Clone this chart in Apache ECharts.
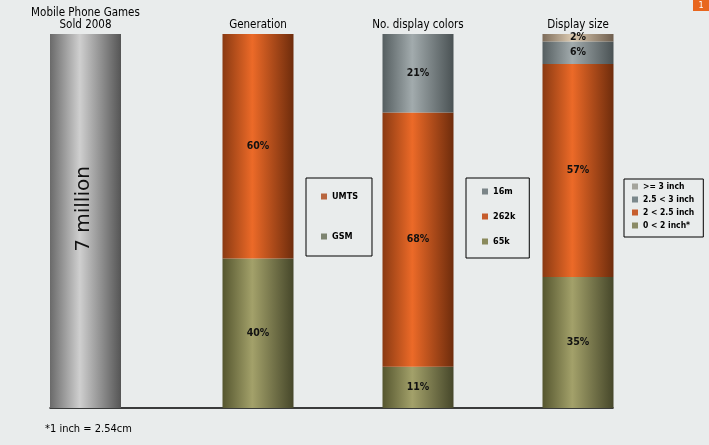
<!DOCTYPE html>
<html>
<head>
<meta charset="utf-8">
<script src="https://cdn.jsdelivr.net/npm/echarts@6/dist/echarts.min.js"></script>
<style>
  html, body { margin: 0; padding: 0; background: #e9ecec; }
  #chart { width: 709px; height: 445px; }
</style>
</head>
<body>
<div id="chart"></div>
<script>
// data, top segment first
var categories = ['Mobile Phone Games\nSold 2008', 'Generation', 'No. display colors', 'Display size']
var soldTotal = [100]
var soldLabel = '7 million'
var generationNames = ['UMTS', 'GSM']
var generationValues = [60, 40]
var colorNames = ['16m', '262k', '65k']
var colorValues = [21, 68, 11]
var sizeNames = ['>= 3 inch', '2.5 < 3 inch', '2 < 2.5 inch', '0 < 2 inch*']
var sizeValues = [2, 6, 57, 35]
var footnote = '*1 inch = 2.54cm'

var FONT = '"DejaVu Sans Condensed", "DejaVu Sans", sans-serif'

// cylinder-ish shading: [edge, centre, edge]
function tube (edgeL, mid, edgeR) {
  return new echarts.graphic.LinearGradient(0, 0, 1, 0, [
    { offset: 0, color: edgeL },
    { offset: 0.42, color: mid },
    { offset: 1, color: edgeR }
  ])
}
var shades = {
  gray: tube('#6a6a6a', '#cfcfcf', '#555555'),
  orange: tube('#8a3a12', '#ec6a28', '#6e2c0c'),
  olive: tube('#55562f', '#a3a16a', '#46472a'),
  slate: tube('#555e60', '#a2abad', '#4a5254'),
  beige: tube('#7d6c5a', '#dccbb2', '#6e5e4e')
}
var flat = {
  UMTS: '#b8663f', GSM: '#7d8470',
  '16m': '#7b8588', '262k': '#c65c2c', '65k': '#8a8a5c',
  '>= 3 inch': '#a4a49c', '2.5 < 3 inch': '#7b888c', '2 < 2.5 inch': '#c75f2e', '0 < 2 inch*': '#8b8b66'
}
var shadeOf = {
  UMTS: 'orange', GSM: 'olive',
  '16m': 'slate', '262k': 'orange', '65k': 'olive',
  '>= 3 inch': 'beige', '2.5 < 3 inch': 'slate', '2 < 2.5 inch': 'orange', '0 < 2 inch*': 'olive'
}

var labelStyle = {
  show: true,
  position: 'inside',
  formatter: '{c}%',
  color: '#111',
  fontFamily: FONT,
  fontWeight: 'bold',
  fontSize: 10.5
}

var series = [{
  name: 'sold',
  type: 'bar',
  xAxisIndex: 0,
  yAxisIndex: 0,
  barWidth: 71,
  data: soldTotal,
  itemStyle: { color: shades.gray },
  label: {
    show: true,
    position: 'inside',
    rotate: 90,
    offset: [12, -2],
    formatter: soldLabel,
    color: '#111',
    fontFamily: '"DejaVu Sans", sans-serif',
    fontSize: 20
  }
}]

function addGroup (names, values, col) {
  // bottom segment first so the stack builds upward
  for (var i = names.length - 1; i >= 0; i--) {
    var d = ['-', '-', '-']
    d[col] = values[i]
    series.push({
      name: names[i],
      type: 'bar',
      stack: 'share',
      xAxisIndex: 1,
      yAxisIndex: 1,
      barWidth: 71,
      data: d,
      itemStyle: { color: shades[shadeOf[names[i]]] },
      label: labelStyle
    })
  }
}
addGroup(generationNames, generationValues, 0)
addGroup(colorNames, colorValues, 1)
addGroup(sizeNames, sizeValues, 2)

function legendData (names) {
  return names.map(function (n) { return { name: n, itemStyle: { color: flat[n] } } })
}
var legendBase = {
  orient: 'vertical',
  selectedMode: false,
  borderColor: '#000',
  borderWidth: 1,
  borderRadius: 0,
  itemWidth: 6,
  itemHeight: 6,
  icon: 'rect',
  textStyle: { color: '#000', fontFamily: FONT, fontWeight: 'bold', fontSize: 9 }
}

var topLabel = {
  color: '#000',
  fontFamily: FONT,
  fontSize: 11.5,
  lineHeight: 12,
  margin: 3,
  interval: 0
}

var option = {
  backgroundColor: '#e9ecec',
  animation: false,
  title: {
    text: footnote,
    left: 40,
    top: 419,
    textStyle: { color: '#000', fontFamily: FONT, fontWeight: 'normal', fontSize: 11 }
  },
  grid: [
    { left: 50, top: 34, width: 71, height: 374 },
    { left: 178, top: 34, width: 480, height: 374 },
    { left: 50, top: 34, width: 563, height: 374 }
  ],
  xAxis: [
    {
      type: 'category', gridIndex: 0, position: 'top', data: categories.slice(0, 1),
      axisLine: { show: false }, axisTick: { show: false }, axisLabel: topLabel
    },
    {
      type: 'category', gridIndex: 1, position: 'top', data: categories.slice(1),
      axisLine: { show: false }, axisTick: { show: false }, axisLabel: topLabel
    },
    {
      type: 'category', gridIndex: 2, position: 'bottom', data: [''],
      axisLine: { show: true, lineStyle: { color: '#000', width: 1.5 } },
      axisTick: { show: false }, axisLabel: { show: false }
    }
  ],
  yAxis: [0, 1, 2].map(function (g) {
    return { type: 'value', gridIndex: g, min: 0, max: 100, show: false }
  }),
  legend: [
    Object.assign({}, legendBase, {
      left: 306, top: 178, padding: [14, 14, 15, 15], itemGap: 31,
      data: legendData(generationNames)
    }),
    Object.assign({}, legendBase, {
      left: 466, top: 178, padding: [9, 14, 12, 16], itemGap: 16,
      data: legendData(colorNames)
    }),
    Object.assign({}, legendBase, {
      left: 624, top: 179, padding: [3, 9, 7, 8], itemGap: 4,
      textStyle: Object.assign({}, legendBase.textStyle, { fontSize: 8.5 }),
      data: legendData(sizeNames)
    })
  ],
  graphic: [
    {
      type: 'group', right: 0, top: 0,
      children: [
        { type: 'rect', shape: { x: 0, y: 0, width: 16, height: 11 }, style: { fill: '#e8661e' } },
        { type: 'text', x: 8, y: 6, style: { text: '1', fill: '#fff', font: '9px ' + FONT, align: 'center', verticalAlign: 'middle' } }
      ]
    }
  ],
  series: series
}

var chart = echarts.init(document.getElementById('chart'))
chart.setOption(option)
</script>
</body>
</html>
